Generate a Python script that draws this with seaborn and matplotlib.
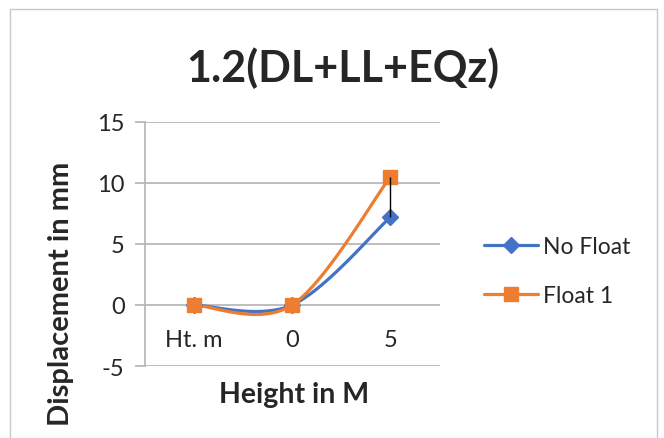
import numpy as np
import pandas as pd
import matplotlib
matplotlib.use("Agg")
import matplotlib.pyplot as plt
from matplotlib.lines import Line2D
from matplotlib.patches import Rectangle
import seaborn as sns

categories = ["Ht. m", "0", "5"]
no_float = [0.0, 0.0, 7.2]
float_1 = [0.0, 0.0, 10.5]
series_names = ["No Float", "Float 1"]

BLUE = "#4472C4"
ORANGE = "#ED7D31"
GRID = "#b3b3b3"

sns.set_style("white")
plt.rcParams["font.family"] = ["Lato", "DejaVu Sans"]
plt.rcParams["axes.unicode_minus"] = False


def excel_smooth(y, n=60):
    # bezier smoothing like the "smoothed line" option of a spreadsheet chart
    x = np.arange(len(y), dtype=float)
    pts = np.column_stack([x, np.asarray(y, dtype=float)])
    out = []
    for i in range(len(pts) - 1):
        p0 = pts[max(i - 1, 0)]
        p1 = pts[i]
        p2 = pts[i + 1]
        p3 = pts[min(i + 2, len(pts) - 1)]
        c1 = p1 + (p2 - p0) / 6
        c2 = p2 - (p3 - p1) / 6
        t = np.linspace(0, 1, n)[:, None]
        seg = ((1 - t) ** 3) * p1 + 3 * ((1 - t) ** 2) * t * c1 + 3 * (1 - t) * t ** 2 * c2 + t ** 3 * p2
        out.append(seg)
    arr = np.vstack(out)
    return arr[:, 0], arr[:, 1]


fig = plt.figure(figsize=(6.64, 4.39), dpi=100)
ax = fig.add_axes([0.218, 0.164, 0.444, 0.556])

xs, ys = excel_smooth(no_float)
sns.lineplot(x=xs, y=ys, ax=ax, color=BLUE, linewidth=2.3, sort=False, zorder=3)
xs, ys = excel_smooth(float_1)
sns.lineplot(x=xs, y=ys, ax=ax, color=ORANGE, linewidth=2.3, sort=False, zorder=4)

pos = np.arange(len(categories))
ax.plot(pos, no_float, linestyle="none", marker="D", markersize=8, color=BLUE, zorder=5)
ax.plot(pos, float_1, linestyle="none", marker="s", markersize=10, color=ORANGE, zorder=6)

# high-low line at the last category
ax.vlines(pos[-1], no_float[-1], float_1[-1], color="black", linewidth=1, zorder=7)

ax.set_xlim(-0.5, 2.5)
ax.set_ylim(-5, 15)
ax.set_yticks([-5, 0, 5, 10, 15])
ax.set_xticks(pos)
ax.set_xticklabels(categories)
ax.tick_params(axis="x", length=0, pad=-27, labelsize=17)
ax.tick_params(axis="y", length=7.5, width=1.2, color=GRID, direction="out", labelsize=17, pad=7, left=True)
ax.yaxis.grid(True, color=GRID, linewidth=1.2)
ax.set_axisbelow(True)
for side in ["top", "right", "bottom"]:
    ax.spines[side].set_visible(False)
ax.spines["left"].set_color(GRID)
ax.spines["left"].set_linewidth(1.2)

ax.set_xlabel("Height in M", fontsize=20.5, fontweight="bold")
ax.set_ylabel("Displacement in mm", fontsize=21, fontweight="bold")
ax.xaxis.set_label_coords(0.505, -0.06)
ax.yaxis.label.set_verticalalignment("center")
ax.yaxis.set_label_coords(-0.285, 0.30)

fig.text(0.517, 0.845, "1.2(DL+LL+EQz)", ha="center", va="center", fontsize=31, fontweight="bold")

handles = [
    Line2D([], [], color=BLUE, linewidth=2.3, marker="D", markersize=8),
    Line2D([], [], color=ORANGE, linewidth=2.3, marker="s", markersize=10),
]
fig.legend(handles, series_names, loc="center left", bbox_to_anchor=(0.729, 0.38), frameon=False,
           fontsize=16.5, handlelength=2.36, labelspacing=1.2, handletextpad=0.2, borderpad=0,
           borderaxespad=0)

fig.add_artist(Rectangle((0.015, -0.1), 0.974, 1.077, transform=fig.transFigure, fill=False,
                         edgecolor="#c8c8c8", linewidth=1))

fig.savefig("out.png", dpi=100)
